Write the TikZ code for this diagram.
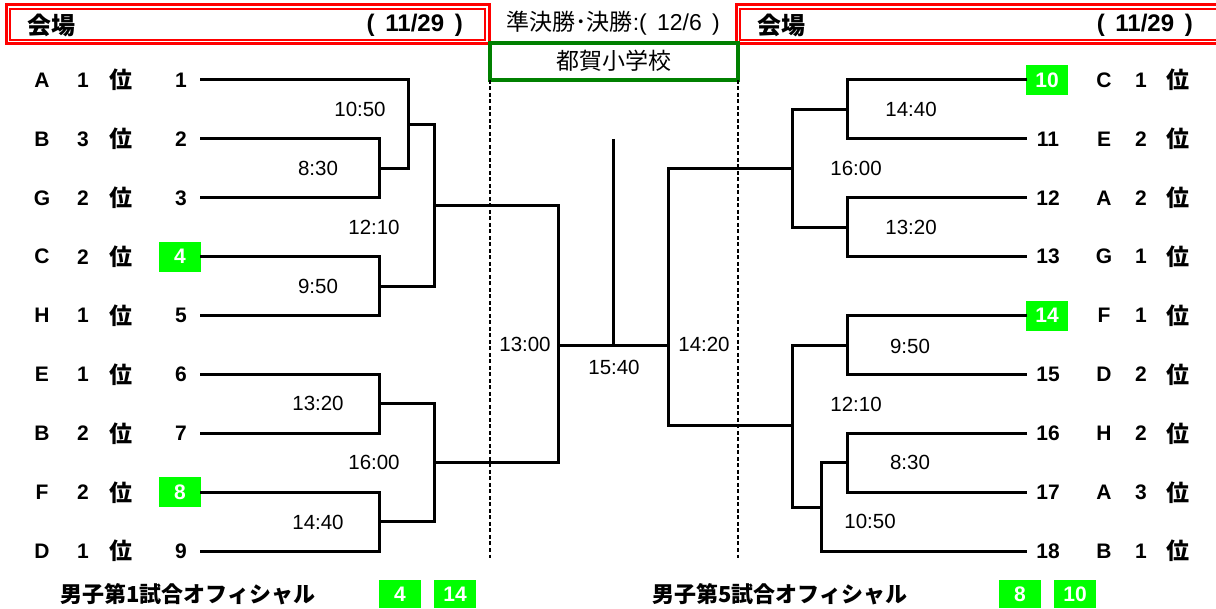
\documentclass[tikz,border=0pt]{standalone}
\usepackage{fontspec}
\setmainfont{Liberation Sans}
\newfontfamily\jp{Noto Sans CJK JP}
\definecolor{hlgreen}{RGB}{0,255,0}
\definecolor{boxgreen}{RGB}{0,128,0}
\definecolor{hdred}{RGB}{255,0,0}
\tikzset{
  bline/.style={line width=3pt},
  divline/.style={line width=2.6pt, dash pattern=on 4pt off 2.5pt},
  teamlbl/.style={font=\fontsize{21}{21}\selectfont\bfseries, inner sep=0pt},
  kanji/.style={font=\jp\fontsize{23}{23}\selectfont\bfseries, inner sep=0pt},
  numlbl/.style={font=\fontsize{21}{21}\selectfont\bfseries, inner sep=0pt},
  hlbox/.style={fill=hlgreen, text=white, minimum width=42pt, minimum height=30pt, inner sep=0pt},
  timelbl/.style={font=\fontsize{20.5}{20.5}\selectfont, inner sep=0pt},
  hdtext/.style={font=\fontsize{24}{24}\selectfont\bfseries, inner sep=0pt},
}
\begin{document}
\begin{tikzpicture}[x=1pt,y=-1pt]
  \useasboundingbox (0,0) rectangle (1216,609);
  \clip (0,0) rectangle (1216,609);

  % headers
  \draw[hdred, line width=3pt] (6,5) rectangle (489,44);
  \draw[hdred, line width=2pt] (10,9) rectangle (485,40);
  \node[hdtext, font=\jp\fontsize{24}{24}\selectfont\bfseries, anchor=west] (venueL) at (27,25) {会場};
  \node[hdtext, anchor=east] (dateL) at (463,25) {( \,11/29\, )};
  \draw[hdred, line width=3pt] (736,5) rectangle (1230,44);
  \draw[hdred, line width=2pt] (740,9) rectangle (1226,40);
  \node[hdtext, font=\jp\fontsize{24}{24}\selectfont\bfseries, anchor=west] (venueR) at (757,25) {会場};
  \node[hdtext, anchor=east] (dateR) at (1193,25) {( \,11/29\, )};

  \node[inner sep=0pt, font=\fontsize{23}{23}\selectfont] (semi) at (613,23)
    {{\jp 準決勝･決勝}:( \,12/6\, )};
  \draw[boxgreen, line width=3.5pt] (490,43) rectangle (738,80);
  \node[inner sep=0pt, font=\jp\fontsize{23}{23}\selectfont] (school) at (614,61) {都賀小学校};
  \draw[divline] (490,80) -- (490,558);
  \draw[divline] (738,80) -- (738,558);

  % left entries
  \foreach \i/\g/\r in {1/A/1,2/B/3,3/G/2,4/C/2,5/H/1,6/E/1,7/B/2,8/F/2,9/D/1}{
    \pgfmathsetmacro{\yy}{80+58.9*(\i-1)}
    \node[teamlbl] (gL\i) at (42,\yy) {\g};
    \node[teamlbl] (rL\i) at (83,\yy) {\r};
    \node[kanji] (pL\i) at (121,\yy) {位};
    \coordinate (e\i) at (200,\yy);
  }
  \foreach \i in {1,2,3,5,6,7,9}{
    \node[numlbl] (n\i) at (181,{80+58.9*(\i-1)}) {\i};
  }
  \node[numlbl, hlbox] (n4) at (180,256.7) {4};
  \node[numlbl, hlbox] (n8) at (180,492.3) {8};

  % right entries
  \foreach \i/\g/\r in {10/C/1,11/E/2,12/A/2,13/G/1,14/F/1,15/D/2,16/H/2,17/A/3,18/B/1}{
    \pgfmathsetmacro{\yy}{80+58.9*(\i-10)}
    \node[teamlbl] (gR\i) at (1104,\yy) {\g};
    \node[teamlbl] (rR\i) at (1141,\yy) {\r};
    \node[kanji] (pR\i) at (1178,\yy) {位};
    \coordinate (e\i) at (1027,\yy);
  }
  \foreach \i in {11,12,13,15,16,17,18}{
    \node[numlbl] (n\i) at (1048,{80+58.9*(\i-10)}) {\i};
  }
  \node[numlbl, hlbox] (n10) at (1047,80) {10};
  \node[numlbl, hlbox] (n14) at (1047,315.6) {14};

  % left bracket
  \coordinate (q23) at (379,168.4);
  \coordinate (q45) at (379,286.2);
  \coordinate (q67) at (379,404);
  \coordinate (q89) at (379,521.8);
  \coordinate (q1) at (408,124.2);
  \coordinate (sL1) at (434,205.2);
  \coordinate (sL2) at (434,463);
  \coordinate (fL) at (558,346);
  \draw[bline] (e2) -| (q23) |- (e3);
  \draw[bline] (q23) -| (q1) |- (e1);
  \draw[bline] (e4) -| (q45) |- (e5);
  \draw[bline] (q1) -| (sL1) |- (q45);
  \draw[bline] (e6) -| (q67) |- (e7);
  \draw[bline] (e8) -| (q89) |- (e9);
  \draw[bline] (q67) -| (sL2) |- (q89);
  \draw[bline] (sL1) -| (fL) |- (sL2);

  % right bracket
  \coordinate (r1011) at (847,109.5);
  \coordinate (r1213) at (847,227.3);
  \coordinate (r1415) at (847,345.1);
  \coordinate (r1617) at (847,462.9);
  \coordinate (r18) at (821,507);
  \coordinate (sR1) at (792,168.4);
  \coordinate (sR2) at (792,426);
  \coordinate (fR) at (668,346);
  \draw[bline] (e10) -| (r1011) |- (e11);
  \draw[bline] (e12) -| (r1213) |- (e13);
  \draw[bline] (r1011) -| (sR1) |- (r1213);
  \draw[bline] (e14) -| (r1415) |- (e15);
  \draw[bline] (e16) -| (r1617) |- (e17);
  \draw[bline] (r1617) -| (r18) |- (e18);
  \draw[bline] (r1415) -| (sR2) |- (r18);
  \draw[bline] (sR1) -| (fR) |- (sR2);

  % final
  \coordinate (top) at (613,139);
  \draw[bline] (fL) -- (fR);
  \draw[bline] (top) -- (top |- fL);

  % times
  \node[timelbl] (t1) at (360,109) {10:50};
  \node[timelbl] (t2) at (318,168) {8:30};
  \node[timelbl] (t3) at (374,227) {12:10};
  \node[timelbl] (t4) at (318,286) {9:50};
  \node[timelbl] (t5) at (318,403) {13:20};
  \node[timelbl] (t6) at (374,462) {16:00};
  \node[timelbl] (t7) at (318,522) {14:40};
  \node[timelbl] (t8) at (525,344) {13:00};
  \node[timelbl] (t9) at (614,367) {15:40};
  \node[timelbl] (t10) at (704,344) {14:20};
  \node[timelbl] (t11) at (911,109) {14:40};
  \node[timelbl] (t12) at (856,168) {16:00};
  \node[timelbl] (t13) at (911,227) {13:20};
  \node[timelbl] (t14) at (910,346) {9:50};
  \node[timelbl] (t15) at (856,404) {12:10};
  \node[timelbl] (t16) at (910,462) {8:30};
  \node[timelbl] (t17) at (870,521) {10:50};

  % officials
  \node[inner sep=0pt, anchor=west, font=\jp\fontsize{22}{22}\selectfont\bfseries] (offL) at (60,594) {男子第1試合オフィシャル};
  \node[numlbl, hlbox, minimum height=28pt] (oL1) at (400,594) {4};
  \node[numlbl, hlbox, minimum height=28pt] (oL2) at (455,594) {14};
  \node[inner sep=0pt, anchor=west, font=\jp\fontsize{22}{22}\selectfont\bfseries] (offR) at (652,594) {男子第5試合オフィシャル};
  \node[numlbl, hlbox, minimum height=28pt] (oR1) at (1020,594) {8};
  \node[numlbl, hlbox, minimum height=28pt] (oR2) at (1075,594) {10};
\end{tikzpicture}
\end{document}
